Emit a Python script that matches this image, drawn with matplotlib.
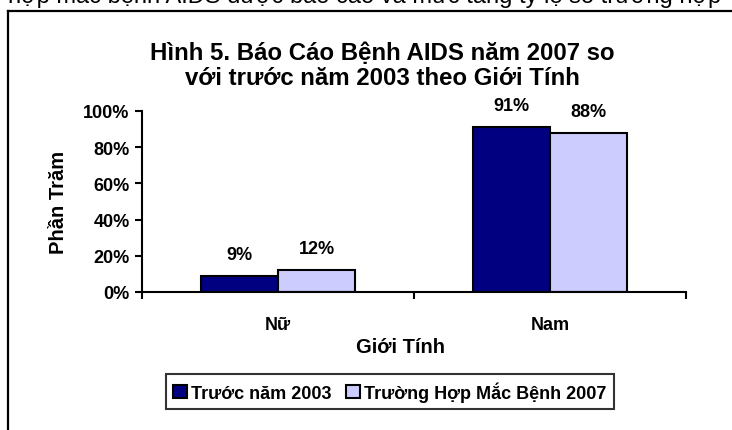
import matplotlib
matplotlib.use("Agg")
import matplotlib.pyplot as plt
from matplotlib.lines import Line2D
import numpy as np

plt.rcParams['font.family'] = ['Liberation Sans', 'DejaVu Sans']

categories = ["Nữ", "Nam"]
series_names = ["Trước năm 2003", "Trường Hợp Mắc Bệnh 2007"]
before_2003 = [0.09, 0.91]
cases_2007 = [0.12, 0.88]
labels_before = ["9%", "91%"]
labels_2007 = ["12%", "88%"]
yticks = [0, 0.2, 0.4, 0.6, 0.8, 1.0]
ytick_labels = ["0%", "20%", "40%", "60%", "80%", "100%"]

W, H = 732, 431
fig = plt.figure(figsize=(W/100, H/100), dpi=100)
fig.patch.set_facecolor("white")

def fx(px): return px / W
def fy(py): return 1 - py / H

# cut-off text line at top of the page
fig.text(fx(8), fy(3), "hợp mắc bệnh AIDS được báo cáo và mức tăng tỷ lệ số trường hợp",
         fontsize=17, ha="left", va="baseline", color="black")

# chart frame
fig.add_artist(Line2D([fx(8), fx(8)], [fy(12), fy(440)], color="black", lw=1.6))
fig.add_artist(Line2D([fx(8), fx(740)], [fy(12), fy(12)], color="black", lw=1.6))

ax = fig.add_axes([fx(142), fy(293), fx(686) - fx(142), fy(112) - fy(293)])
x = np.arange(len(categories))
bw = 0.284
b1 = ax.bar(x - bw/2, before_2003, bw, color="#000080", edgecolor="black", linewidth=1.5,
            label=series_names[0])
b2 = ax.bar(x + bw/2, cases_2007, bw, color="#CCCCFF", edgecolor="black", linewidth=1.5,
            label=series_names[1])
for xi, v, t in zip(x - bw/2, before_2003, labels_before):
    ax.annotate(t, (xi, v), xytext=(0, 15.5), textcoords="offset points", ha="center",
                va="center", fontsize=13, fontweight="bold")
for xi, v, t in zip(x + bw/2, cases_2007, labels_2007):
    ax.annotate(t, (xi, v), xytext=(0, 15.5), textcoords="offset points", ha="center",
                va="center", fontsize=13, fontweight="bold")

ax.set_xlim(-0.5, 1.5)
ax.set_ylim(0, 1.0)
ax.set_yticks(yticks)
ax.set_yticklabels(ytick_labels, fontsize=13, fontweight="bold")
ax.set_xticks([-0.5, 0.5, 1.5])
ax.set_xticklabels([])
ax.set_xticks(x, minor=True)
ax.set_xticklabels(categories, minor=True, fontsize=13, fontweight="bold")
ax.tick_params(axis="x", which="minor", length=0, pad=17)
ax.tick_params(axis="x", which="major", length=5, width=1.5, direction="out")
ax.tick_params(axis="y", length=5, width=1.5, direction="out", pad=4)
for s in ["top", "right"]:
    ax.spines[s].set_visible(False)
for s in ["left", "bottom"]:
    ax.spines[s].set_linewidth(1.5)

fig.text(fx(59), fy(202), "Phần Trăm", rotation=90, ha="center", va="center",
         fontsize=14.5, fontweight="bold")
fig.text(fx(401), fy(348), "Giới Tính", ha="center", va="center",
         fontsize=14.5, fontweight="bold")

fig.text(fx(382), fy(60), "Hình 5. Báo Cáo Bệnh AIDS năm 2007 so", ha="center", va="baseline",
         fontsize=17.3, fontweight="bold")
fig.text(fx(382), fy(85), "với trước năm 2003 theo Giới Tính", ha="center", va="baseline",
         fontsize=17.3, fontweight="bold")

leg = fig.legend(handles=[b1, b2], labels=series_names, loc="center",
                 bbox_to_anchor=(fx(390), fy(392.5)), ncol=2, frameon=True, fancybox=False,
                 prop={"weight": "bold", "size": 13}, handlelength=0.75, handleheight=0.75,
                 handletextpad=0.25, columnspacing=0.8, borderpad=0.4, borderaxespad=0)
leg.get_frame().set_edgecolor("black")
leg.get_frame().set_linewidth(1.5)

fig.savefig("out.png", dpi=100, facecolor="white")
